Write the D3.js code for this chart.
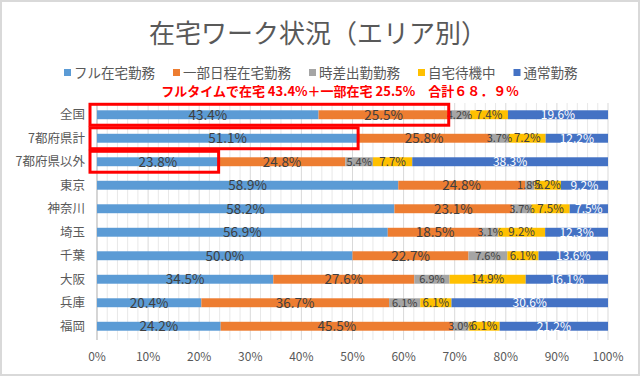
<!DOCTYPE html>
<html>
<head>
<meta charset="utf-8">
<script src="https://cdn.jsdelivr.net/npm/d3@7"></script>
<style>
  body { margin: 0; background: #fff; }
  svg { display: block; font-family: "Noto Sans CJK JP", "Noto Sans", sans-serif; }
</style>
</head>
<body>
<div id="chart"></div>
<script>
const areas = ['全国', '7都府県計', '7都府県以外', '東京', '神奈川', '埼玉', '千葉', '大阪', '兵庫', '福岡'];
const seriesNames = ['フル在宅勤務', '一部日程在宅勤務', '時差出勤勤務', '自宅待機中', '通常勤務'];
const fullRemote = [43.4, 51.1, 23.8, 58.9, 58.2, 56.9, 50.0, 34.5, 20.4, 24.2];
const partRemote = [25.5, 25.8, 24.8, 24.8, 23.1, 18.5, 22.7, 27.6, 36.7, 45.5];
const staggered = [4.2, 3.7, 5.4, 1.8, 3.7, 3.1, 7.6, 6.9, 6.1, 3.0];
const standby = [7.4, 7.2, 7.7, 5.2, 7.5, 9.2, 6.1, 14.9, 6.1, 6.1];
const normal = [19.6, 12.2, 38.3, 9.2, 7.5, 12.3, 13.6, 16.1, 30.6, 21.2];
const xTicks = [0, 10, 20, 30, 40, 50, 60, 70, 80, 90, 100];
// rows highlighted with red boxes, and how many series the box covers
const highlights = [['全国', 2], ['7都府県計', 1], ['7都府県以外', 1]];
const note = 'フルタイムで在宅 43.4%＋一部在宅 25.5%　合計６８．９%';
const title = '在宅ワーク状況（エリア別）';

const colors = ['#5b9bd5', '#ed7d31', '#a5a5a5', '#ffc000', '#4472c4'];
const W = 640, H = 376;
const margin = { left: 97, right: 32, top: 103, bottom: 38 };

const rows = areas.map((a, i) => ({
  area: a,
  s0: fullRemote[i], s1: partRemote[i], s2: staggered[i], s3: standby[i], s4: normal[i]
}));
const keys = ['s0', 's1', 's2', 's3', 's4'];
const stacked = d3.stack().keys(keys).offset(d3.stackOffsetExpand)(rows);

const svg = d3.select('#chart').append('svg').attr('width', W).attr('height', H);

svg.append('rect')
  .attr('x', 1).attr('y', 1).attr('width', W - 2).attr('height', H - 2)
  .attr('fill', '#fff').attr('stroke', '#d9d9d9').attr('stroke-width', 2);

const x = d3.scaleLinear().domain([0, 1]).range([margin.left, W - margin.right]);
const y = d3.scaleBand().domain(areas).range([margin.top, H - margin.bottom]).paddingInner(0.62).paddingOuter(0.31);

// title
svg.append('text')
  .attr('x', 318).attr('y', 43)
  .attr('text-anchor', 'middle')
  .attr('font-size', 26).attr('fill', '#595959')
  .text(title);

// legend
const legend = svg.append('g').attr('transform', 'translate(0,73)');
let lx = 64;
seriesNames.forEach((name, i) => {
  const g = legend.append('g').attr('transform', `translate(${lx},0)`);
  g.append('rect').attr('x', 0).attr('y', -4).attr('width', 7).attr('height', 7).attr('fill', colors[i]);
  const t = g.append('text').attr('x', 10).attr('y', 4.5)
    .attr('font-size', 13.5).attr('fill', '#595959').text(name);
  lx += 10 + t.node().getComputedTextLength() + 18;
});

svg.append('text')
  .attr('x', 340).attr('y', 96)
  .attr('text-anchor', 'middle')
  .attr('font-size', 13).attr('font-weight', 'bold').attr('fill', '#ff0000')
  .text(note);

// gridlines every 2%
const grid = d3.range(0, 101, 2).map(v => v / 100);
svg.append('g')
  .selectAll('line')
  .data(grid)
  .join('line')
  .attr('x1', d => x(d)).attr('x2', d => x(d))
  .attr('y1', margin.top).attr('y2', H - margin.bottom + 2)
  .attr('stroke', (d, i) => i % 5 === 0 ? '#d9d9d9' : '#e8e8e8')
  .attr('stroke-width', 1);

svg.append('line')
  .attr('x1', x(0)).attr('x2', x(0))
  .attr('y1', margin.top).attr('y2', H - margin.bottom + 2)
  .attr('stroke', '#bfbfbf');

// bars
const layer = svg.append('g')
  .selectAll('g')
  .data(stacked)
  .join('g')
  .attr('fill', (d, i) => colors[i]);

layer.selectAll('rect')
  .data(d => d)
  .join('rect')
  .attr('x', d => x(d[0]))
  .attr('width', d => x(d[1]) - x(d[0]))
  .attr('y', d => y(d.data.area))
  .attr('height', y.bandwidth());

// data labels
const labelSize = [13.5, 13.5, 11, 11.5, 12];
const labelColor = ['#404040', '#404040', '#404040', '#404040', '#ffffff'];
stacked.forEach((s, si) => {
  svg.append('g')
    .selectAll('text')
    .data(s)
    .join('text')
    .attr('x', d => (x(d[0]) + x(d[1])) / 2)
    .attr('y', d => y(d.data.area) + y.bandwidth() / 2)
    .attr('dy', '0.36em')
    .attr('text-anchor', 'middle')
    .attr('font-size', labelSize[si])
    .attr('fill', labelColor[si])
    .text(d => d.data[s.key].toFixed(1) + '%');
});

// highlight boxes
svg.append('g')
  .selectAll('rect')
  .data(highlights)
  .join('rect')
  .attr('x', x(0) - 7)
  .attr('y', d => y(d[0]) - 6)
  .attr('width', d => x(stacked[d[1] - 1][areas.indexOf(d[0])][1]) - x(0) + 7)
  .attr('height', y.bandwidth() + 12)
  .attr('fill', 'none')
  .attr('stroke', '#ff0000')
  .attr('stroke-width', 3);

// category labels
svg.append('g')
  .selectAll('text')
  .data(areas)
  .join('text')
  .attr('x', margin.left - 12)
  .attr('y', d => y(d) + y.bandwidth() / 2)
  .attr('dy', '0.36em')
  .attr('text-anchor', 'end')
  .attr('font-size', 12.5).attr('fill', '#595959')
  .text(d => d);

// x axis labels
svg.append('g')
  .selectAll('text')
  .data(xTicks)
  .join('text')
  .attr('x', d => x(d / 100))
  .attr('y', H - 15)
  .attr('text-anchor', 'middle')
  .attr('font-size', 12).attr('fill', '#595959')
  .text(d => d + '%');
</script>
</body>
</html>
